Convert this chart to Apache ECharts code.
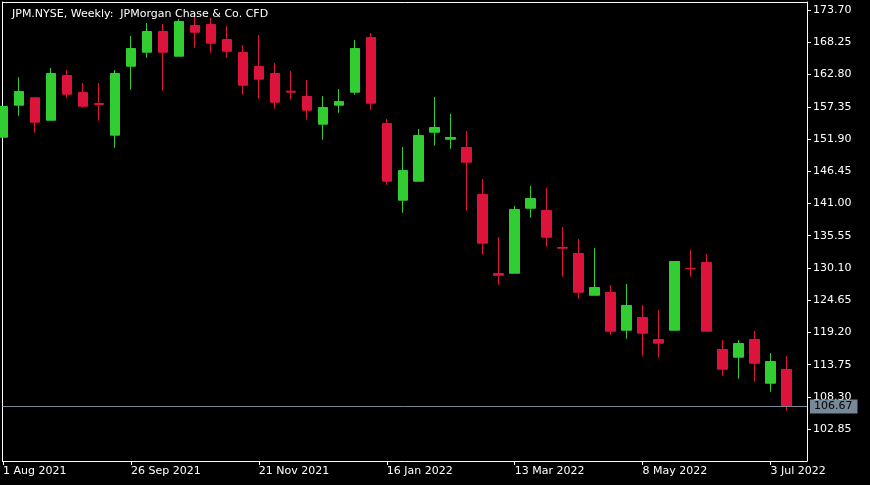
<!DOCTYPE html>
<html><head><meta charset="utf-8">
<script src="https://cdn.jsdelivr.net/npm/echarts@6/dist/echarts.min.js"></script>
<style>html,body{margin:0;padding:0;background:#000}#c{width:870px;height:485px}</style>
</head><body><div id="c"></div>
<script>
const chartTitle = 'JPM.NYSE, Weekly:  JPMorgan Chase & Co. CFD';
const weeks = ['1 Aug 2021','8 Aug 2021','15 Aug 2021','22 Aug 2021','29 Aug 2021',
  '5 Sep 2021','12 Sep 2021','19 Sep 2021','26 Sep 2021',
  '3 Oct 2021','10 Oct 2021','17 Oct 2021','24 Oct 2021','31 Oct 2021',
  '7 Nov 2021','14 Nov 2021','21 Nov 2021','28 Nov 2021',
  '5 Dec 2021','12 Dec 2021','19 Dec 2021','26 Dec 2021',
  '2 Jan 2022','9 Jan 2022','16 Jan 2022','23 Jan 2022','30 Jan 2022',
  '6 Feb 2022','13 Feb 2022','20 Feb 2022','27 Feb 2022',
  '6 Mar 2022','13 Mar 2022','20 Mar 2022','27 Mar 2022',
  '3 Apr 2022','10 Apr 2022','17 Apr 2022','24 Apr 2022',
  '1 May 2022','8 May 2022','15 May 2022','22 May 2022','29 May 2022',
  '5 Jun 2022','12 Jun 2022','19 Jun 2022','26 Jun 2022',
  '3 Jul 2022','10 Jul 2022'];
const opens  = [152.21,157.62,158.87,155.08,162.64,159.77,157.91,152.55,164.21,166.58,
  170.08,165.91,171.10,171.27,168.73,166.53,164.16,162.98,159.99,159.09,
  154.41,157.62,159.82,169.07,154.53,141.56,144.77,153.05,151.87,150.47,
  142.52,129.16,129.21,140.20,139.82,133.56,132.54,125.49,125.95,119.57,
  121.72,118.00,119.57,130.04,131.02,116.31,115.01,118.00,110.61,112.93];
const highs  = [157.45,162.34,158.87,163.91,163.57,161.37,161.37,163.57,169.32,171.52,
  171.35,172.20,173.04,172.36,171.01,167.80,169.49,164.76,163.40,161.88,
  159.18,160.36,168.64,169.83,155.29,150.55,153.60,159.01,156.13,153.26,
  145.14,135.33,140.58,143.96,143.62,137.02,134.99,133.47,127.22,127.39,
  123.84,122.99,131.19,133.14,132.46,117.92,117.92,119.44,115.72,115.21];
const lows   = [152.15,155.84,152.97,155.08,158.89,157.20,155.00,150.43,160.24,165.65,
  160.07,165.91,167.34,166.50,165.65,159.40,158.72,157.03,158.55,155.17,
  151.79,156.35,159.40,156.86,144.18,139.44,144.77,150.77,150.26,139.78,
  132.34,127.27,129.21,138.60,133.69,128.62,124.90,125.49,118.81,118.14,
  115.26,114.92,119.57,128.62,119.41,111.88,111.37,110.87,109.18,105.96];
const closes = [157.40,159.94,154.75,162.98,159.48,157.45,157.74,162.98,167.21,170.08,
  166.58,171.77,169.96,168.10,166.75,161.00,162.02,158.13,159.82,156.77,
  157.23,158.25,167.21,157.96,144.77,146.58,152.50,153.85,152.16,147.98,
  134.29,128.87,139.98,141.84,135.30,133.44,126.00,126.79,119.41,123.75,
  119.07,117.38,131.19,129.97,119.41,112.98,117.33,113.99,114.28,106.67];
const priceTicks = [173.70,168.25,162.80,157.35,151.90,146.45,141.00,135.55,130.10,124.65,119.20,113.75,108.30,102.85];
const dateTickIndex = [0,8,16,24,32,40,48];
const lastPrice = 106.67;

const FONT = 'DejaVu Sans';
const xMin = -0.03125, xMax = 50.28125;
const yMin = 97.46, yMax = 175.07;

const chart = echarts.init(document.getElementById('c'), null, {renderer: 'canvas'});
const candleData = weeks.map((w, i) => [i, opens[i], closes[i], lows[i], highs[i]]);

chart.setOption({
  backgroundColor: '#000',
  animation: false,
  title: {
    text: chartTitle, left: 7, top: 4,
    textStyle: {color: '#fff', fontSize: 11, fontWeight: 'normal', fontFamily: FONT}
  },
  grid: {left: 2, right: 63, top: 2, bottom: 24, containLabel: false},
  xAxis: [{
    type: 'value', position: 'bottom', min: xMin, max: xMax,
    axisLine: {show: true, lineStyle: {color: '#fff', width: 1}},
    axisTick: {show: true, length: 4, customValues: dateTickIndex, lineStyle: {color: '#fff'}},
    axisLabel: {show: true, customValues: dateTickIndex, formatter: v => weeks[Math.round(v)] || '',
      align: 'left', margin: 5, color: '#fff', fontSize: 11, fontFamily: FONT},
    splitLine: {show: false}
  }, {
    type: 'value', position: 'top', min: xMin, max: xMax,
    axisLine: {show: true, onZero: false, lineStyle: {color: '#fff', width: 1}},
    axisTick: {show: false}, axisLabel: {show: false}, splitLine: {show: false}
  }],
  yAxis: [{
    type: 'value', position: 'right', min: yMin, max: yMax,
    axisLine: {show: true, onZero: false, lineStyle: {color: '#fff', width: 1}},
    axisTick: {show: true, length: 4, customValues: priceTicks, lineStyle: {color: '#fff'}},
    axisLabel: {show: true, customValues: priceTicks, formatter: v => v.toFixed(2),
      margin: 6, color: '#fff', fontSize: 11, fontFamily: FONT},
    splitLine: {show: false}
  }, {
    type: 'value', position: 'left', min: yMin, max: yMax,
    axisLine: {show: true, onZero: false, lineStyle: {color: '#fff', width: 1}},
    axisTick: {show: false}, axisLabel: {show: false}, splitLine: {show: false}
  }],
  series: [{
    type: 'candlestick',
    xAxisIndex: 0, yAxisIndex: 0,
    data: candleData,
    barWidth: 10,
    clip: true,
    itemStyle: {
      color: '#32CD32', color0: '#DC143C',
      borderColor: '#32CD32', borderColor0: '#DC143C', borderWidth: 1
    },
    markLine: {
      silent: true, symbol: ['none', 'none'], animation: false,
      lineStyle: {color: '#778899', width: 1, type: 'solid'},
      label: {show: true, position: 'end', distance: 3, formatter: () => lastPrice.toFixed(2),
        color: '#000', backgroundColor: '#778899', padding: [2, 5, 1, 4],
        fontSize: 11, fontFamily: FONT},
      emphasis: {disabled: true},
      data: [{yAxis: lastPrice}]
    }
  }]
});
</script>
</body></html>
